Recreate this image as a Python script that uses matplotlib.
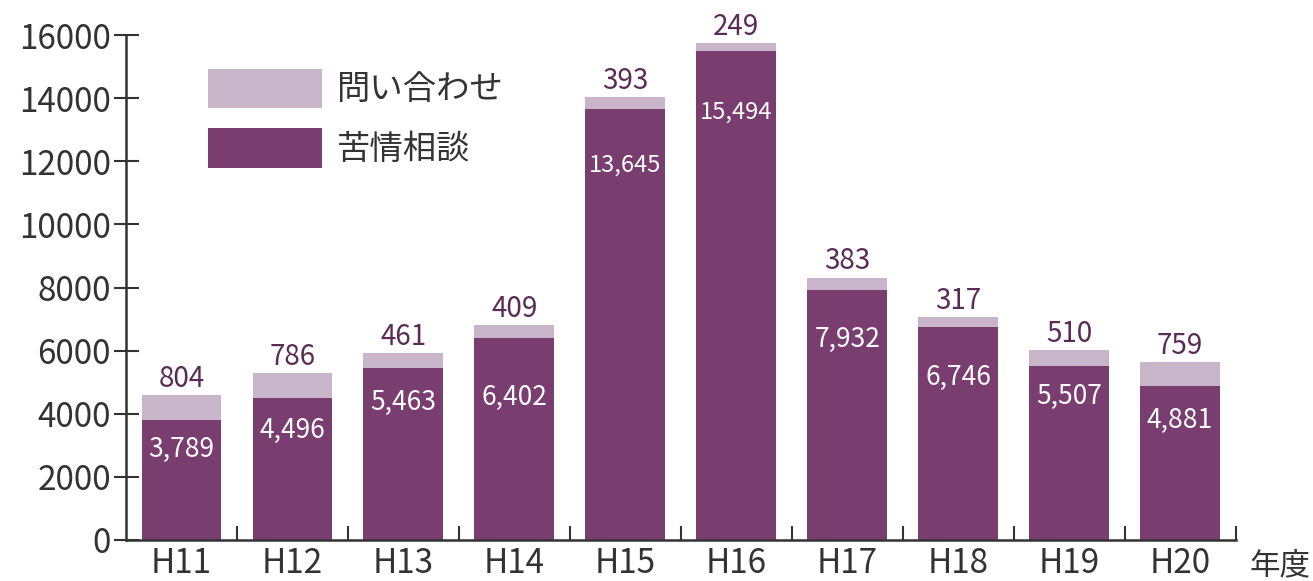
import matplotlib.pyplot as plt
from matplotlib.ticker import MultipleLocator, FixedLocator

plt.rcParams['font.family'] = ['Noto Sans CJK JP', 'DejaVu Sans']

# 年度別の相談件数
years = ['H11', 'H12', 'H13', 'H14', 'H15', 'H16', 'H17', 'H18', 'H19', 'H20']
complaints = [3789, 4496, 5463, 6402, 13645, 15494, 7932, 6746, 5507, 4881]
inquiries = [804, 786, 461, 409, 393, 249, 383, 317, 510, 759]

dark = '#7a3d70'
light = '#c9b5c9'
txt_dark = '#5a2b56'
axis_col = '#333333'

# 棒の中の数字の位置 (棒の上端から下へ, pt)
inner_offset = [21, 23, 25, 43, 40, 44, 36, 36, 22, 25]

fig = plt.figure(figsize=(13.13, 5.81), dpi=100)
ax = fig.add_axes([0.096, 0.0706, 0.845, 0.869])

x = list(range(len(years)))
b1 = ax.bar(x, complaints, width=0.72, color=dark)
b2 = ax.bar(x, inquiries, width=0.72, bottom=complaints, color=light)

for i in x:
    total = complaints[i] + inquiries[i]
    ax.annotate(str(inquiries[i]), (i, total), xytext=(0, 1), textcoords='offset points',
                ha='center', va='bottom', fontsize=20, color=txt_dark)
    fs = 17 if complaints[i] >= 10000 else 19
    ax.annotate(f'{complaints[i]:,}', (i, complaints[i]), xytext=(0, -inner_offset[i]),
                textcoords='offset points', ha='center', va='center', fontsize=fs, color='white')

ax.set_xlim(-0.5, 9.5)
ax.set_ylim(0, 16000)
ax.yaxis.set_major_locator(MultipleLocator(2000))

ax.set_xticks(x)
ax.set_xticklabels(years)
ax.xaxis.set_minor_locator(FixedLocator([i + 0.5 for i in x]))
ax.tick_params(axis='x', which='major', length=0, pad=4, labelsize=24, labelcolor=axis_col)
ax.tick_params(axis='x', which='minor', direction='in', length=10, width=1.5, color=axis_col)
ax.tick_params(axis='y', direction='inout', length=18, width=1.5, color=axis_col,
               labelsize=24, labelcolor=axis_col, pad=2)

for s in ['top', 'right']:
    ax.spines[s].set_visible(False)
for s in ['left', 'bottom']:
    ax.spines[s].set_color(axis_col)
    ax.spines[s].set_linewidth(1.8)

ax.text(1.013, -0.02, '年度', transform=ax.transAxes, ha='left', va='top',
        fontsize=22, color=axis_col)

ax.legend([b2, b1], ['問い合わせ', '苦情相談'], loc='upper left',
          bbox_to_anchor=(0.062, 0.96), frameon=False, fontsize=24,
          handlelength=3.4, handleheight=1.45, handletextpad=0.45, labelspacing=0.6,
          labelcolor=axis_col, borderaxespad=0)

fig.savefig('out.png', dpi=100)
